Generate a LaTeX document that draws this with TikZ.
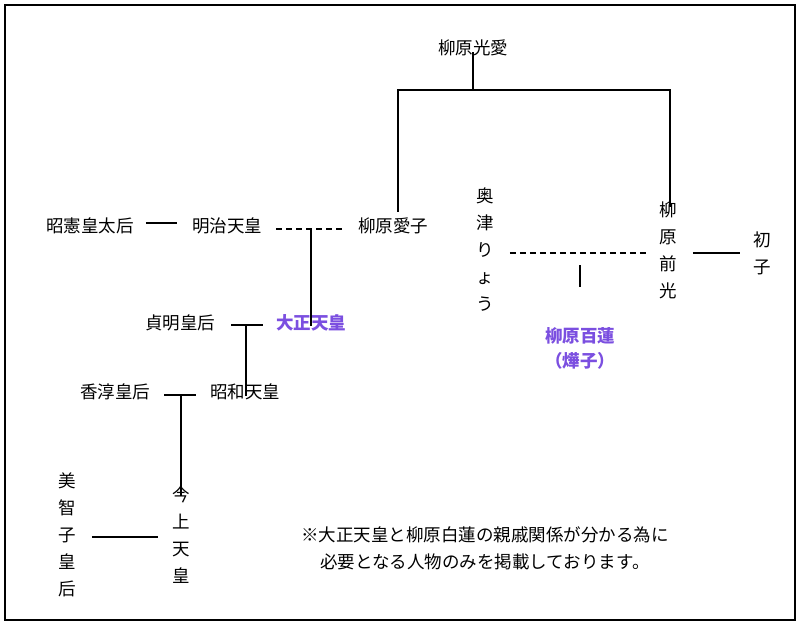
\documentclass[tikz,border=0pt]{standalone}
\usepackage{fontspec}
\setmainfont{Noto Sans CJK JP}
\usepackage{xcolor}
\usetikzlibrary{positioning, calc}
\definecolor{hlpurple}{HTML}{7B4FE0}

\begin{document}
\begin{tikzpicture}[
    x=1pt, y=-1pt,
    person/.style={inner sep=0pt, font=\fontsize{17.5}{20}\selectfont},
    vperson/.style={person, align=center, font=\fontsize{17.5}{27}\selectfont},
    key/.style={person, text=hlpurple, font=\fontsize{17.5}{25}\selectfont\bfseries, align=center},
    line/.style={line width=1.3pt},
    dline/.style={line width=1.1pt, dash pattern=on 6pt off 4pt}
]
\useasboundingbox (0,0) rectangle (800,624);
\draw[line width=1.3pt] (5,5) rectangle (795,620);

% people
\node[person] (mitsunaru) at (473,48) {柳原光愛};
\node[person] (shoken) at (90,226) {昭憲皇太后};
\node[person] (meiji) at (227,226) {明治天皇};
\node[person] (naruko) at (393,226) {柳原愛子};
\node[vperson] (okitsu) at (485,250) {奥\\津\\り\\ょ\\う};
\node[vperson] (sakimitsu) at (668,250) {柳\\原\\前\\光};
\node[vperson] (hatsuko) at (762,253) {初\\子};
\node[person] (teimei) at (180,323) {貞明皇后};
\node[key] (taisho) at (311,323) {大正天皇};
\node[key] (byakuren) at (580,348) {柳原百蓮\\（燁子）};
\node[person] (kojun) at (115,392) {香淳皇后};
\node[person] (showa) at (245,392) {昭和天皇};
\node[vperson] (michiko) at (67,535) {美\\智\\子\\皇\\后};
\node[vperson] (kinjo) at (181,535) {今\\上\\天\\皇};
\node[person, align=center, font=\fontsize{17.5}{27}\selectfont] (note) at (485,548)
  {※大正天皇と柳原白蓮の親戚関係が分かる為に\\必要となる人物のみを掲載しております。};

% junctions
\coordinate (top) at (473,90);
\coordinate (topl) at (398,90);
\coordinate (topr) at (670,90);
\coordinate (mj) at (311,229);
\coordinate (oj) at (580,253);
\coordinate (tj) at (246,325);
\coordinate (sj) at (181,395);
\coordinate (mk) at (120,537);

% connectors
\draw[line] ([yshift=4pt]mitsunaru.south) -- (top);
\draw[line] (topl |- naruko.north) ++(0,-6) -- (topl) -- (topr) -- ([yshift=-6pt]topr |- sakimitsu.north);
\draw[line] ([xshift=12pt,yshift=3pt]shoken.east) -- ([xshift=-15pt,yshift=3pt]meiji.west);
\draw[dline] ([xshift=14pt]meiji.east |- mj) -- ([xshift=-12pt]naruko.west |- mj);
\draw[line] (mj) -- ([yshift=-12pt]taisho.north);
\draw[dline] ([xshift=16pt]okitsu.east |- oj) -- ([xshift=-11pt]sakimitsu.west |- oj);
\draw[line] ($(oj)+(0,12)$) -- ($(oj)+(0,34)$);
\draw[line] ([xshift=16pt]sakimitsu.east |- oj) -- ([xshift=-13pt]hatsuko.west |- oj);
\draw[line] ([xshift=16pt]teimei.east |- tj) -- ([xshift=-13pt]taisho.west |- tj);
\draw[line] (tj) -- ([yshift=-12pt]tj |- showa.north);
\draw[line] ([xshift=14pt]kojun.east |- sj) -- ([xshift=-14pt]showa.west |- sj);
\draw[line] (sj) -- ([yshift=-10pt]kinjo.north);
\draw[line] ([xshift=16pt]michiko.east |- mk) -- ([xshift=-14pt]kinjo.west |- mk);
\end{tikzpicture}
\end{document}
